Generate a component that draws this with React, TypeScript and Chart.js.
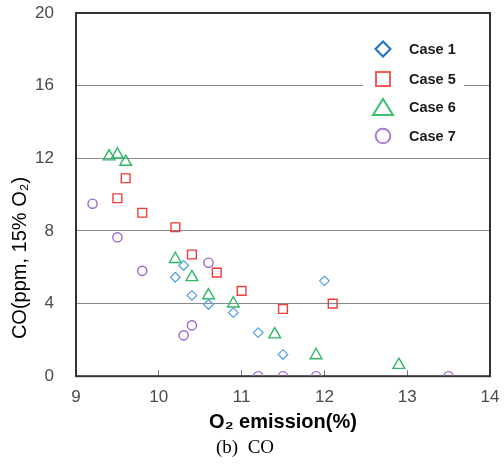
import React, { useEffect, useRef } from 'react';
import { Chart, registerables } from 'chart.js';

Chart.register(...registerables);

// ---- data ----
const case1X = [10.3, 10.2, 10.4, 10.6, 10.9, 11.2, 11.5, 12.0];
const case1Y = [6.1, 5.45, 4.45, 3.95, 3.5, 2.4, 1.2, 5.25];
const case5X = [9.6, 9.5, 9.8, 10.2, 10.4, 10.7, 11.0, 11.5, 12.1];
const case5Y = [10.9, 9.8, 9.0, 8.2, 6.7, 5.7, 4.7, 3.7, 4.0];
const case6X = [9.4, 9.5, 9.6, 10.2, 10.4, 10.6, 10.9, 11.4, 11.9, 12.9];
const case6Y = [12.1, 12.2, 11.8, 6.45, 5.45, 4.45, 4.0, 2.3, 1.15, 0.62];
const case7X = [9.2, 9.5, 9.8, 10.6, 10.4, 10.3, 11.2, 11.5, 11.9, 13.5];
const case7Y = [9.5, 7.65, 5.8, 6.25, 2.8, 2.25, 0, 0, 0, 0];

const seriesLabels = ['Case 1', 'Case 5', 'Case 6', 'Case 7'];
const xTitle = 'O\u2082 emission(%)';
const yTitle = 'CO(ppm, 15% O\u2082)';
const caption = '(b)  CO';

const toPoints = (xs: number[], ys: number[]) => xs.map((x, i) => ({ x, y: ys[i] }));

const yTitlePlugin = {
  id: 'yTitleCustom',
  afterDraw(chart: any) {
    const ctx = chart.ctx;
    ctx.save();
    ctx.translate(20, 258);
    ctx.rotate(-Math.PI / 2);
    ctx.font = '20px "Liberation Sans", Arial, sans-serif';
    ctx.fillStyle = '#000';
    ctx.textAlign = 'center';
    ctx.textBaseline = 'middle';
    ctx.fillText(yTitle, 0, 0);
    ctx.restore();
  },
};

const framePlugin = {
  id: 'frame',
  beforeDatasetsDraw(chart: any) {
    const { ctx, chartArea } = chart;
    ctx.save();
    ctx.strokeStyle = '#333';
    ctx.lineWidth = 2;
    ctx.strokeRect(chartArea.left, chartArea.top, chartArea.right - chartArea.left, chartArea.bottom - chartArea.top);
    ctx.restore();
  },
};

const boxLegendPlugin = {
  id: 'boxLegend',
  afterDatasetsDraw(chart: any) {
    const ctx = chart.ctx;
    ctx.save();
    ctx.fillStyle = '#fff';
    ctx.fillRect(363, 36, 101, 114);
    const rows = [49, 79, 107, 136];
    const mx = 383;
    chart.data.datasets.forEach((ds: any, i: number) => {
      const y = rows[i];
      ctx.strokeStyle = ds.legendColor;
      ctx.lineWidth = 2;
      ctx.beginPath();
      if (ds.pointStyle === 'rectRot') {
        ctx.moveTo(mx - 7.5, y);
        ctx.lineTo(mx, y - 7.5);
        ctx.lineTo(mx + 7.5, y);
        ctx.lineTo(mx, y + 7.5);
        ctx.closePath();
      } else if (ds.pointStyle === 'rect') {
        ctx.rect(mx - 7, y - 7, 14, 14);
      } else if (ds.pointStyle === 'triangle') {
        ctx.moveTo(mx, y - 8);
        ctx.lineTo(mx + 10, y + 8);
        ctx.lineTo(mx - 10, y + 8);
        ctx.closePath();
      } else {
        ctx.arc(mx, y, 7.3, 0, Math.PI * 2);
      }
      ctx.stroke();
      ctx.fillStyle = '#1a1a1a';
      ctx.font = 'bold 14.5px "Liberation Sans", Arial, sans-serif';
      ctx.textAlign = 'left';
      ctx.textBaseline = 'middle';
      ctx.fillText(ds.label, 409, y + 1);
    });
    ctx.restore();
  },
};

export default function App() {
  const ref = useRef<HTMLCanvasElement>(null);
  useEffect(() => {
    if (!ref.current) return;
    const chart = new Chart(ref.current, {
      type: 'scatter',
      data: {
        datasets: [
          {
            label: seriesLabels[0],
            data: toPoints(case1X, case1Y),
            pointStyle: 'rectRot',
            pointRadius: 4.8,
            borderColor: '#5aa2e4',
            backgroundColor: 'rgba(0,0,0,0)',
            borderWidth: 1.3,
            legendColor: '#1b6fc6',
          } as any,
          {
            label: seriesLabels[1],
            data: toPoints(case5X, case5Y),
            pointStyle: 'rect',
            pointRadius: 6.2,
            borderColor: '#f23a3a',
            backgroundColor: 'rgba(0,0,0,0)',
            borderWidth: 1.4,
            legendColor: '#f25a5a',
          } as any,
          {
            label: seriesLabels[2],
            data: toPoints(case6X, case6Y),
            pointStyle: 'triangle',
            pointRadius: 6.8,
            borderColor: '#2fb866',
            backgroundColor: 'rgba(0,0,0,0)',
            borderWidth: 1.4,
            legendColor: '#3cc06e',
          } as any,
          {
            label: seriesLabels[3],
            data: toPoints(case7X, case7Y),
            pointStyle: 'circle',
            pointRadius: 4.6,
            borderColor: '#9a66c8',
            backgroundColor: 'rgba(0,0,0,0)',
            borderWidth: 1.4,
            legendColor: '#a77ad4',
          } as any,
        ],
      },
      options: {
        responsive: false,
        animation: false,
        layout: { padding: { top: 13, right: 14, left: 0, bottom: 0 }, autoPadding: false },
        plugins: {
          legend: { display: false },
          tooltip: { enabled: false },
          title: {
            display: true,
            position: 'bottom',
            text: caption,
            color: '#000',
            font: { family: '"Liberation Serif", "Times New Roman", serif', size: 19, weight: 'normal' },
            padding: { top: 2, bottom: 5 },
          },
        },
        scales: {
          x: {
            type: 'linear',
            min: 9,
            max: 14,
            ticks: {
              stepSize: 1,
              color: '#4a4a4a',
              padding: 17,
              font: { family: '"Liberation Sans", Arial, sans-serif', size: 17 },
            },
            grid: {
              display: true,
              drawOnChartArea: false,
              drawTicks: true,
              tickLength: -6,
              color: '#777',
              lineWidth: 1,
            },
            border: { display: false },
            title: {
              display: true,
              text: xTitle,
              color: '#000',
              font: { family: '"Liberation Sans", Arial, sans-serif', size: 20, weight: 'bold' },
              padding: { top: 0, bottom: 0 },
            },
            afterFit: (s: any) => {
              s.height = 58;
              s.paddingLeft = 0;
              s.paddingRight = 0;
            },
          },
          y: {
            type: 'linear',
            min: 0,
            max: 20,
            ticks: {
              stepSize: 4,
              color: '#4a4a4a',
              padding: 22,
              font: { family: '"Liberation Sans", Arial, sans-serif', size: 17 },
            },
            grid: {
              color: '#8a8a8a',
              lineWidth: 1,
              drawTicks: false,
            },
            border: { display: false },
            afterFit: (s: any) => {
              s.width = 76;
              s.paddingTop = 0;
              s.paddingBottom = 0;
            },
          },
        },
      } as any,
      plugins: [framePlugin, boxLegendPlugin, yTitlePlugin],
    });
    return () => chart.destroy();
  }, []);
  return (
    <div style={{ position: 'fixed', left: 0, top: 0, width: 504, height: 464, background: '#fff' }}>
      <canvas ref={ref} width={504} height={464} style={{ display: 'block' }} />
    </div>
  );
}
